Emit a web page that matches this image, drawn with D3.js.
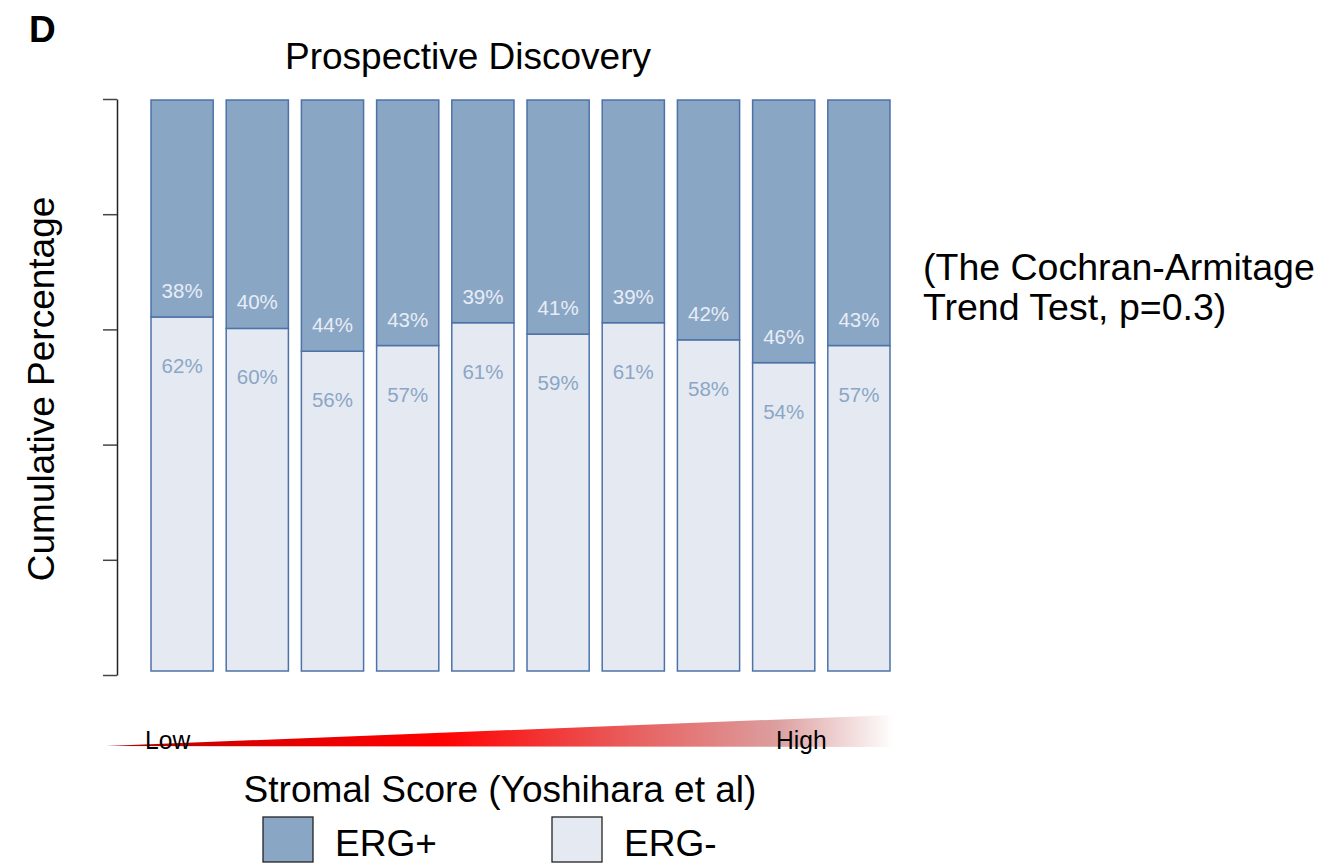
<!DOCTYPE html>
<html>
<head>
<meta charset="utf-8">
<script src="https://cdn.jsdelivr.net/npm/d3@7"></script>
<style>
  body { margin: 0; background: #fff; }
  text { font-family: "Liberation Sans", Arial, sans-serif; }
</style>
</head>
<body>
<div id="chart"></div>
<script>
// data
var groups = ["1", "2", "3", "4", "5", "6", "7", "8", "9", "10"];
var ergPos = [38, 40, 44, 43, 39, 41, 39, 42, 46, 43];
var ergNeg = [62, 60, 56, 57, 61, 59, 61, 58, 54, 57];
var yTicks = [0, 20, 40, 60, 80, 100];

var width = 1339, height = 868;

var svg = d3.select("#chart").append("svg")
    .attr("width", width)
    .attr("height", height);

// scales
var x = d3.scaleBand().domain(groups).range([151, 890]).paddingInner(0.173).paddingOuter(0);
var y = d3.scaleLinear().domain([0, 100]).range([671, 100]);
var yAxisScale = d3.scaleLinear().domain([0, 100]).range([675, 99]);

// panel letter + title
svg.append("text").attr("x", 29).attr("y", 42)
    .style("font-size", "37px").style("font-weight", "bold").text("D");
svg.append("text").attr("x", 468).attr("y", 69).attr("text-anchor", "middle")
    .style("font-size", "37px").text("Prospective Discovery");

// y axis (no labels)
var yAxis = svg.append("g")
    .attr("transform", "translate(117,0)")
    .call(d3.axisLeft(yAxisScale).tickValues(yTicks).tickFormat("").tickSize(14).tickSizeOuter(0));
yAxis.select(".domain").attr("stroke", "#222").attr("stroke-width", 1.5);
yAxis.selectAll(".tick line").attr("stroke", "#444").attr("stroke-width", 1.5);

svg.append("text")
    .attr("transform", "translate(54,389) rotate(-90)")
    .attr("text-anchor", "middle")
    .style("font-size", "37px")
    .text("Cumulative Percentage");

// bars
var bars = svg.selectAll(".bar").data(groups).enter().append("g").attr("class", "bar");

bars.append("rect")
    .attr("x", function (d) { return x(d); })
    .attr("width", x.bandwidth())
    .attr("y", function (d, i) { return y(ergNeg[i]); })
    .attr("height", function (d, i) { return y(0) - y(ergNeg[i]); })
    .attr("fill", "#e5eaf2")
    .attr("stroke", "#4d72a8")
    .attr("stroke-width", 1.5);

bars.append("rect")
    .attr("x", function (d) { return x(d); })
    .attr("width", x.bandwidth())
    .attr("y", y(100))
    .attr("height", function (d, i) { return y(ergNeg[i]) - y(100); })
    .attr("fill", "#8aa6c5")
    .attr("stroke", "#4d72a8")
    .attr("stroke-width", 1.5);

// percent labels
bars.append("text")
    .attr("x", function (d) { return x(d) + x.bandwidth() / 2; })
    .attr("y", function (d, i) { return y(ergNeg[i]) - 19; })
    .attr("text-anchor", "middle")
    .style("font-size", "20.5px")
    .attr("fill", "#e8edf5")
    .text(function (d, i) { return ergPos[i] + "%"; });

bars.append("text")
    .attr("x", function (d) { return x(d) + x.bandwidth() / 2; })
    .attr("y", function (d, i) { return y(ergNeg[i]) + 56; })
    .attr("text-anchor", "middle")
    .style("font-size", "20.5px")
    .attr("fill", "#8ba6c6")
    .text(function (d, i) { return ergNeg[i] + "%"; });

// trend test note
var note = svg.append("text").attr("x", 923).attr("y", 280).style("font-size", "37.5px");
note.append("tspan").attr("x", 923).text("(The Cochran-Armitage");
note.append("tspan").attr("x", 923).attr("dy", 40).text("Trend Test, p=0.3)");

// gradient wedge for stromal score
var defs = svg.append("defs");
var grad = defs.append("linearGradient").attr("id", "wedge")
    .attr("x1", "0%").attr("x2", "100%").attr("y1", "0%").attr("y2", "0%");
grad.append("stop").attr("offset", "0%").attr("stop-color", "#b00000");
grad.append("stop").attr("offset", "20%").attr("stop-color", "#e00000");
grad.append("stop").attr("offset", "42%").attr("stop-color", "#ff0000");
grad.append("stop").attr("offset", "65%").attr("stop-color", "#ea5858");
grad.append("stop").attr("offset", "85%").attr("stop-color", "#dc9e9e");
grad.append("stop").attr("offset", "100%").attr("stop-color", "#ffffff");

svg.append("path")
    .attr("d", "M106,746 L894,715 L894,747 Z")
    .attr("fill", "url(#wedge)");

svg.append("text").attr("x", 145).attr("y", 749).attr("transform", "translate(145,0) scale(0.93,1) translate(-145,0)")
    .style("font-size", "26.5px").text("Low");
svg.append("text").attr("x", 776).attr("y", 749).attr("transform", "translate(776,0) scale(0.93,1) translate(-776,0)")
    .style("font-size", "26.5px").text("High");

svg.append("text").attr("x", 500).attr("y", 802).attr("text-anchor", "middle")
    .style("font-size", "37px").text("Stromal Score (Yoshihara et al)");

// legend
var legend = [
    { label: "ERG+", fill: "#8aa6c5", x: 263 },
    { label: "ERG-", fill: "#e5eaf2", x: 552 }
];
legend.forEach(function (l) {
    svg.append("rect").attr("x", l.x).attr("y", 817).attr("width", 50).attr("height", 45)
        .attr("fill", l.fill).attr("stroke", "#222").attr("stroke-width", 1.3);
    svg.append("text").attr("x", l.x + 72).attr("y", 856).style("font-size", "37px").text(l.label);
});
</script>
</body>
</html>
